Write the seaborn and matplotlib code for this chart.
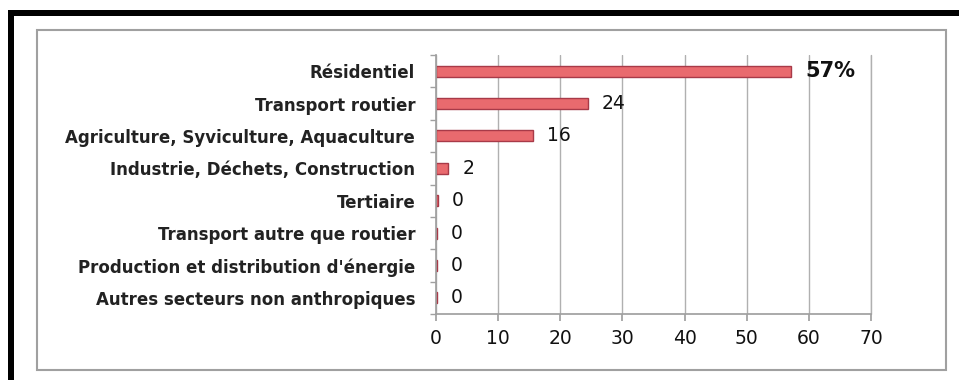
import matplotlib
matplotlib.use("Agg")
import matplotlib.pyplot as plt
import seaborn as sns
import pandas as pd
import numpy as np
from matplotlib.patches import Rectangle
from matplotlib.ticker import FixedLocator

categories = [
    "Résidentiel",
    "Transport routier",
    "Agriculture, Syviculture, Aquaculture",
    "Industrie, Déchets, Construction",
    "Tertiaire",
    "Transport autre que routier",
    "Production et distribution d'énergie",
    "Autres secteurs non anthropiques",
]
values = [57.2, 24.4, 15.6, 2.0, 0.3, 0.15, 0.15, 0.1]
value_labels = ["57%", "24", "16", "2", "0", "0", "0", "0"]
x_ticks = [0, 10, 20, 30, 40, 50, 60, 70]

df = pd.DataFrame({"cat": categories, "val": values})

sns.set_theme(style="white")
plt.rcParams["font.family"] = ["DejaVu Sans"]

fig = plt.figure(figsize=(9.59, 3.80), dpi=100)
W, H = 959, 380

# outer black border (top and left) and gray inner frame
fig.patches.append(Rectangle((8 / W, 0), 6 / W, (H - 10) / H, transform=fig.transFigure,
                             facecolor="black", edgecolor="none", zorder=0))
fig.patches.append(Rectangle((8 / W, 1 - 16 / H), (W - 8) / W, 6 / H, transform=fig.transFigure,
                             facecolor="black", edgecolor="none", zorder=0))
fig.patches.append(Rectangle((37 / W, 1 - 370 / H), (946 - 37) / W, (370 - 30) / H,
                             transform=fig.transFigure, facecolor="none",
                             edgecolor="#a0a0a0", linewidth=1.5, zorder=0))

ax = fig.add_axes([436 / W, 1 - 314 / H, (871 - 436) / W, (314 - 55) / H])
ax.set_facecolor("none")

sns.barplot(data=df, x="val", y="cat", ax=ax, orient="h", width=0.34,
            color="#e96a6e", edgecolor="#a83a48", linewidth=1.0, saturation=1, zorder=3)

ax.set_xlim(0, 70)
ax.set_ylim(len(categories) - 0.5, -0.5)
ax.set_xticks(x_ticks)
ax.set_xticklabels([str(t) for t in x_ticks], fontsize=13.5, color="#111111")
ax.grid(axis="x", color="#b0b0b0", linewidth=1.0, zorder=0)
ax.axvline(70, color="#b0b0b0", linewidth=1.0, zorder=0, clip_on=False)
ax.set_xlabel("")
ax.set_ylabel("")

for lbl in ax.get_yticklabels():
    lbl.set_fontweight("bold")
    lbl.set_fontsize(12)
    lbl.set_color("#222222")

ax.tick_params(axis="y", which="major", length=0, pad=15)
ax.yaxis.set_minor_locator(FixedLocator(np.arange(-0.5, len(categories), 1.0)))
ax.tick_params(axis="y", which="minor", length=4, color="#a0a0a0", left=True)
ax.tick_params(axis="x", which="major", length=5, color="#a0a0a0", bottom=True, pad=6)

for s in ["top", "right"]:
    ax.spines[s].set_visible(False)
ax.spines["left"].set_color("#a0a0a0")
ax.spines["bottom"].set_color("#a0a0a0")
ax.spines["left"].set_zorder(4)

for i, (v, t) in enumerate(zip(values, value_labels)):
    ax.annotate(t, xy=(v, i), xytext=(14, 0), textcoords="offset pixels",
                va="center", ha="left",
                fontsize=15 if i == 0 else 13.5,
                fontweight="bold" if i == 0 else "normal", color="#111111")

fig.savefig("out.png", dpi=100, facecolor="white")
